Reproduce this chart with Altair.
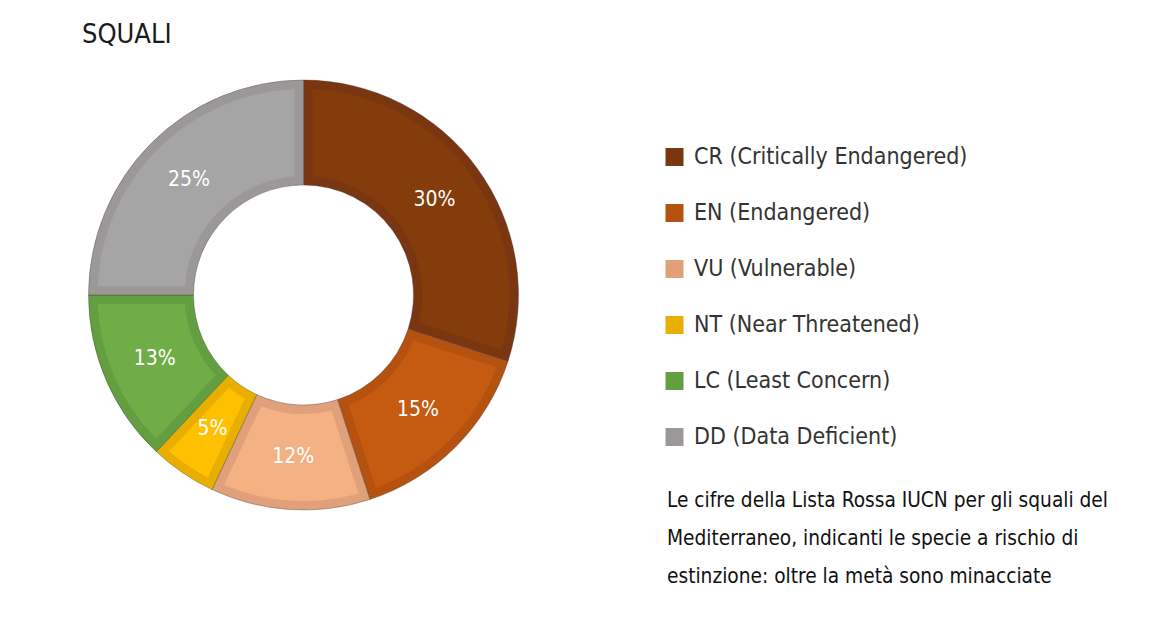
import altair as alt
import pandas as pd

title_text = "SQUALI"
categories = [
    "CR (Critically Endangered)",
    "EN (Endangered)",
    "VU (Vulnerable)",
    "NT (Near Threatened)",
    "LC (Least Concern)",
    "DD (Data Deficient)",
]
values = [30, 15, 12, 5, 13, 25]
labels = ["30%", "15%", "12%", "5%", "13%", "25%"]
fill_colors = ["#843C0C", "#C55A11", "#F4B183", "#FFC000", "#70AD47", "#A5A5A5"]
border_colors = ["#7A3610", "#B5520F", "#DFA07A", "#E8AF00", "#639E40", "#9C9898"]
description = (
    "Le cifre della Lista Rossa IUCN per gli squali del\n"
    "Mediterraneo, indicanti le specie a rischio di\n"
    "estinzione: oltre la metà sono minacciate"
)

FONT = "DejaVu Sans Condensed, Liberation Sans Narrow, sans-serif"

df = pd.DataFrame({
    "cat": categories,
    "value": values,
    "label": labels,
    "fillc": fill_colors,
    "order": list(range(len(categories))),
})

CX, CY = 295.5, 287

base = alt.Chart(df).encode(
    theta=alt.Theta("value:Q", stack=True),
    order=alt.Order("order:Q"),
    x=alt.value(CX),
    y=alt.value(CY),
)

outer = base.mark_arc(
    radius=215, radius2=110, stroke="#3a3a3a", strokeWidth=0.6, strokeOpacity=0.6
).encode(
    fill=alt.Fill(
        "cat:N",
        scale=alt.Scale(domain=categories, range=border_colors),
        sort=categories,
        legend=alt.Legend(
            title=None,
            orient="none",
            legendX=655,
            legendY=137.5,
            symbolType="square",
            symbolSize=324,
            symbolStrokeWidth=0,
            symbolStrokeColor="transparent",
            labelFont=FONT,
            labelFontSize=23,
            labelColor="#333333",
            labelOffset=8,
            rowPadding=32,
            labelLimit=600,
        ),
    )
)

inner = base.mark_arc(radius=206, radius2=119, padAngle=0.0757).encode(
    fill=alt.Fill("fillc:N", scale=None)
)

text = base.mark_text(radius=162, font=FONT, fontSize=21, color="white").encode(
    text="label:N"
)

title = alt.Chart(pd.DataFrame({"t": [title_text]})).mark_text(
    align="left", baseline="alphabetic", font=FONT, fontSize=27, color="#1a1a1a"
).encode(text="t:N", x=alt.value(74), y=alt.value(35))

desc = alt.Chart(pd.DataFrame({"t": [description]})).mark_text(
    align="left", baseline="alphabetic", font=FONT, fontSize=20.7, color="#111111",
    lineBreak="\n", lineHeight=38,
).encode(text="t:N", x=alt.value(659), y=alt.value(499))

chart = alt.layer(outer, inner, text, title, desc).properties(
    width=1147, height=607, autosize="none", padding=0
).configure_view(stroke=None)

chart.save("out.html", embed_options={"renderer": "svg", "actions": False})
